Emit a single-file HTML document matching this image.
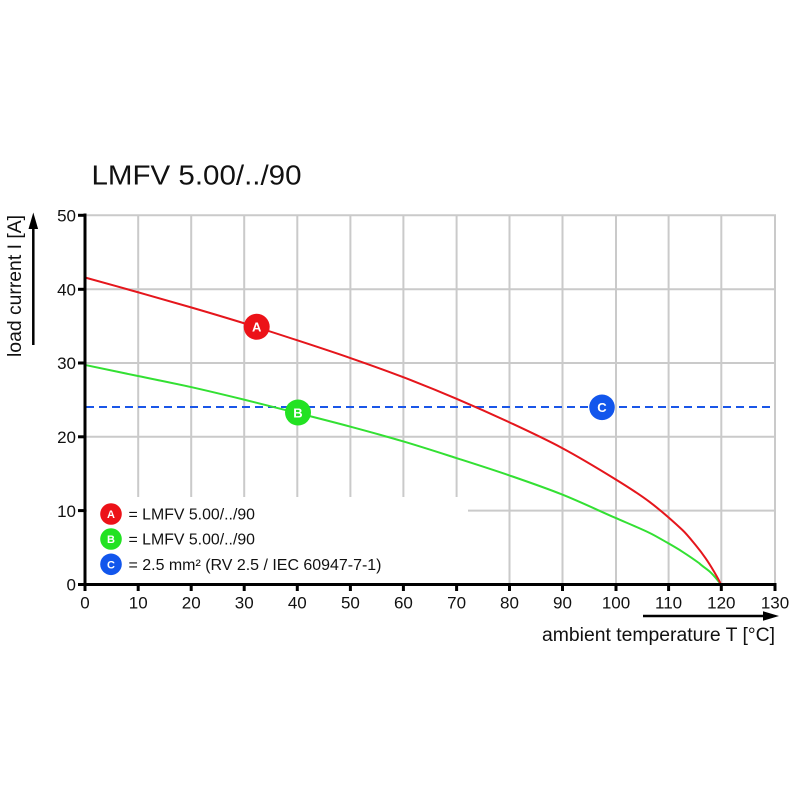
<!DOCTYPE html>
<html>
<head>
<meta charset="utf-8">
<style>
html,body{margin:0;padding:0;background:#fff}
svg{display:block}
</style>
</head>
<body>
<svg width="800" height="800" viewBox="0 0 800 800" xmlns="http://www.w3.org/2000/svg" font-family="Liberation Sans, Arial, sans-serif">
<rect x="0" y="0" width="800" height="800" fill="#fff"/>

<!-- Title -->
<text x="91.5" y="184.5" font-size="27.5" fill="#111" textLength="210" lengthAdjust="spacingAndGlyphs">LMFV 5.00/../90</text>

<!-- grid -->
<g stroke="#cacaca" stroke-width="2" fill="none">
  <line x1="138.2" y1="215" x2="138.2" y2="584"/>
  <line x1="191.2" y1="215" x2="191.2" y2="584"/>
  <line x1="244.2" y1="215" x2="244.2" y2="584"/>
  <line x1="297.3" y1="215" x2="297.3" y2="584"/>
  <line x1="350.4" y1="215" x2="350.4" y2="584"/>
  <line x1="403.4" y1="215" x2="403.4" y2="584"/>
  <line x1="456.6" y1="215" x2="456.6" y2="584"/>
  <line x1="509.5" y1="215" x2="509.5" y2="584"/>
  <line x1="562.5" y1="215" x2="562.5" y2="584"/>
  <line x1="616" y1="215" x2="616" y2="584"/>
  <line x1="668.6" y1="215" x2="668.6" y2="584"/>
  <line x1="721.3" y1="215" x2="721.3" y2="584"/>
  <line x1="775" y1="215" x2="775" y2="584"/>
  <line x1="85" y1="215.3" x2="776" y2="215.3"/>
  <line x1="85" y1="289.3" x2="776" y2="289.3"/>
  <line x1="85" y1="363" x2="776" y2="363"/>
  <line x1="85" y1="436.8" x2="776" y2="436.8"/>
  <line x1="85" y1="510.6" x2="776" y2="510.6"/>
</g>

<!-- legend white box -->
<rect x="87" y="497" width="381" height="86" fill="#fff"/>

<!-- C dashed line -->
<line x1="86" y1="407" x2="775" y2="407" stroke="#1a56e8" stroke-width="2" stroke-dasharray="8 5"/>

<!-- B curve (green) -->
<path fill="none" stroke="#33e033" stroke-width="2" stroke-linejoin="round"
 d="M85,364.94 S120.33,372.32 138,376.01 S173.33,383.14 191,387.08 S226.33,395.32 244,399.63 S279.33,408.42 297,412.91 S332.33,421.83 350,426.57 S385.33,436.10 403,441.33 S438.33,452.27 456,457.93 S491.33,469.19 509,475.28 S544.33,487.39 562,494.46 C579.67,501.53 597.33,509.95 615,517.71 C626.48,522.75 637.97,527.35 649.45,532.84 C655.46,535.71 661.46,539.36 667.47,542.80 C672.42,545.64 677.36,548.48 682.31,551.66 C687.96,555.29 693.62,559.10 699.27,563.25 C703.16,567.03 707.04,568.89 710.93,572.69 C714.29,575.98 717.64,580.13 721,584.5"/>

<!-- A curve (red) -->
<path fill="none" stroke="#e5161c" stroke-width="2" stroke-linejoin="round"
 d="M85,277.49 S120.33,287.27 138,292.25 S173.33,302.21 191,307.38 S226.33,317.78 244,323.25 S279.33,334.44 297,340.22 S332.33,351.78 350,357.93 S385.33,370.35 403,377.12 S438.33,391.02 456,398.52 S491.33,413.90 509,422.14 S544.33,438.50 562,447.97 C579.67,457.44 597.33,468.09 615,478.97 C626.48,486.04 637.97,493.16 649.45,501.84 C660.40,510.12 671.36,519.64 682.31,529.89 C686.73,534.03 691.14,539.64 695.56,545.02 C698.92,549.11 702.27,553.46 705.63,558.30 C708.46,562.38 711.28,566.90 714.11,571.73 C716.41,575.65 718.70,579.44 721,584.5"/>

<!-- axes -->
<g stroke="#000" stroke-width="3" fill="none">
  <line x1="85" y1="213.5" x2="85" y2="586"/>
  <line x1="83.5" y1="584.5" x2="776.5" y2="584.5"/>
  <line x1="78" y1="215.3" x2="85" y2="215.3"/>
  <line x1="78" y1="289.3" x2="85" y2="289.3"/>
  <line x1="78" y1="363" x2="85" y2="363"/>
  <line x1="78" y1="436.8" x2="85" y2="436.8"/>
  <line x1="78" y1="510.6" x2="85" y2="510.6"/>
  <line x1="78" y1="584.5" x2="85" y2="584.5"/>
  <line x1="85" y1="584" x2="85" y2="591"/>
  <line x1="138.2" y1="584" x2="138.2" y2="591"/>
  <line x1="191.2" y1="584" x2="191.2" y2="591"/>
  <line x1="244.2" y1="584" x2="244.2" y2="591"/>
  <line x1="297.3" y1="584" x2="297.3" y2="591"/>
  <line x1="350.4" y1="584" x2="350.4" y2="591"/>
  <line x1="403.4" y1="584" x2="403.4" y2="591"/>
  <line x1="456.6" y1="584" x2="456.6" y2="591"/>
  <line x1="509.5" y1="584" x2="509.5" y2="591"/>
  <line x1="562.5" y1="584" x2="562.5" y2="591"/>
  <line x1="616" y1="584" x2="616" y2="591"/>
  <line x1="668.6" y1="584" x2="668.6" y2="591"/>
  <line x1="721.3" y1="584" x2="721.3" y2="591"/>
  <line x1="775" y1="584" x2="775" y2="591"/>
</g>

<!-- y tick labels -->
<g font-size="17" fill="#111" text-anchor="end">
  <text x="76" y="221.5">50</text>
  <text x="76" y="295.5">40</text>
  <text x="76" y="369.2">30</text>
  <text x="76" y="443">20</text>
  <text x="76" y="516.8">10</text>
  <text x="76" y="590.7">0</text>
</g>

<!-- x tick labels -->
<g font-size="17" fill="#111" text-anchor="middle">
  <text x="85" y="608.5">0</text>
  <text x="138.2" y="608.5">10</text>
  <text x="191.2" y="608.5">20</text>
  <text x="244.2" y="608.5">30</text>
  <text x="297.3" y="608.5">40</text>
  <text x="350.4" y="608.5">50</text>
  <text x="403.4" y="608.5">60</text>
  <text x="456.6" y="608.5">70</text>
  <text x="509.5" y="608.5">80</text>
  <text x="562.5" y="608.5">90</text>
  <text x="616" y="608.5">100</text>
  <text x="668.6" y="608.5">110</text>
  <text x="721.3" y="608.5">120</text>
  <text x="775" y="608.5">130</text>
</g>

<!-- axis labels and arrows -->
<text transform="translate(21,357) rotate(-90)" font-size="19" fill="#111" textLength="142" lengthAdjust="spacingAndGlyphs">load current I [A]</text>
<line x1="33.3" y1="345" x2="33.3" y2="226" stroke="#000" stroke-width="2.5"/>
<polygon points="33.3,212.5 28.5,229 38.1,229" fill="#000"/>

<text x="542" y="641" font-size="19" fill="#111" textLength="233" lengthAdjust="spacingAndGlyphs">ambient temperature T [°C]</text>
<line x1="643" y1="616" x2="766" y2="616" stroke="#000" stroke-width="2.5"/>
<polygon points="779,616 763,611.2 763,620.8" fill="#000"/>

<!-- chart markers -->
<g font-weight="bold" text-anchor="middle" fill="#fff">
  <circle cx="256.7" cy="326.8" r="13" fill="#ec1218"/>
  <text x="256.7" y="331.6" font-size="13" fill="#fff">A</text>
  <circle cx="298" cy="412.5" r="13" fill="#22e222"/>
  <text x="298" y="417.3" font-size="13" fill="#fff">B</text>
  <circle cx="602" cy="407.3" r="12.8" fill="#1256ec"/>
  <text x="602" y="412.1" font-size="13" fill="#fff">C</text>
</g>

<!-- legend -->
<g font-weight="bold" text-anchor="middle">
  <circle cx="111" cy="514" r="10.8" fill="#ec1218"/>
  <text x="111" y="518" font-size="11" fill="#fff">A</text>
  <circle cx="111" cy="539" r="10.8" fill="#22e222"/>
  <text x="111" y="543" font-size="11" fill="#fff">B</text>
  <circle cx="111" cy="564.3" r="10.8" fill="#1256ec"/>
  <text x="111" y="568.3" font-size="11" fill="#fff">C</text>
</g>
<g font-size="15.5" fill="#111">
  <text x="128.5" y="519.5" textLength="126.5" lengthAdjust="spacingAndGlyphs">= LMFV 5.00/../90</text>
  <text x="128.5" y="544.5" textLength="126.5" lengthAdjust="spacingAndGlyphs">= LMFV 5.00/../90</text>
  <text x="128.5" y="569.8" textLength="253" lengthAdjust="spacingAndGlyphs">= 2.5 mm² (RV 2.5 / IEC 60947-7-1)</text>
</g>
</svg>
</body>
</html>
